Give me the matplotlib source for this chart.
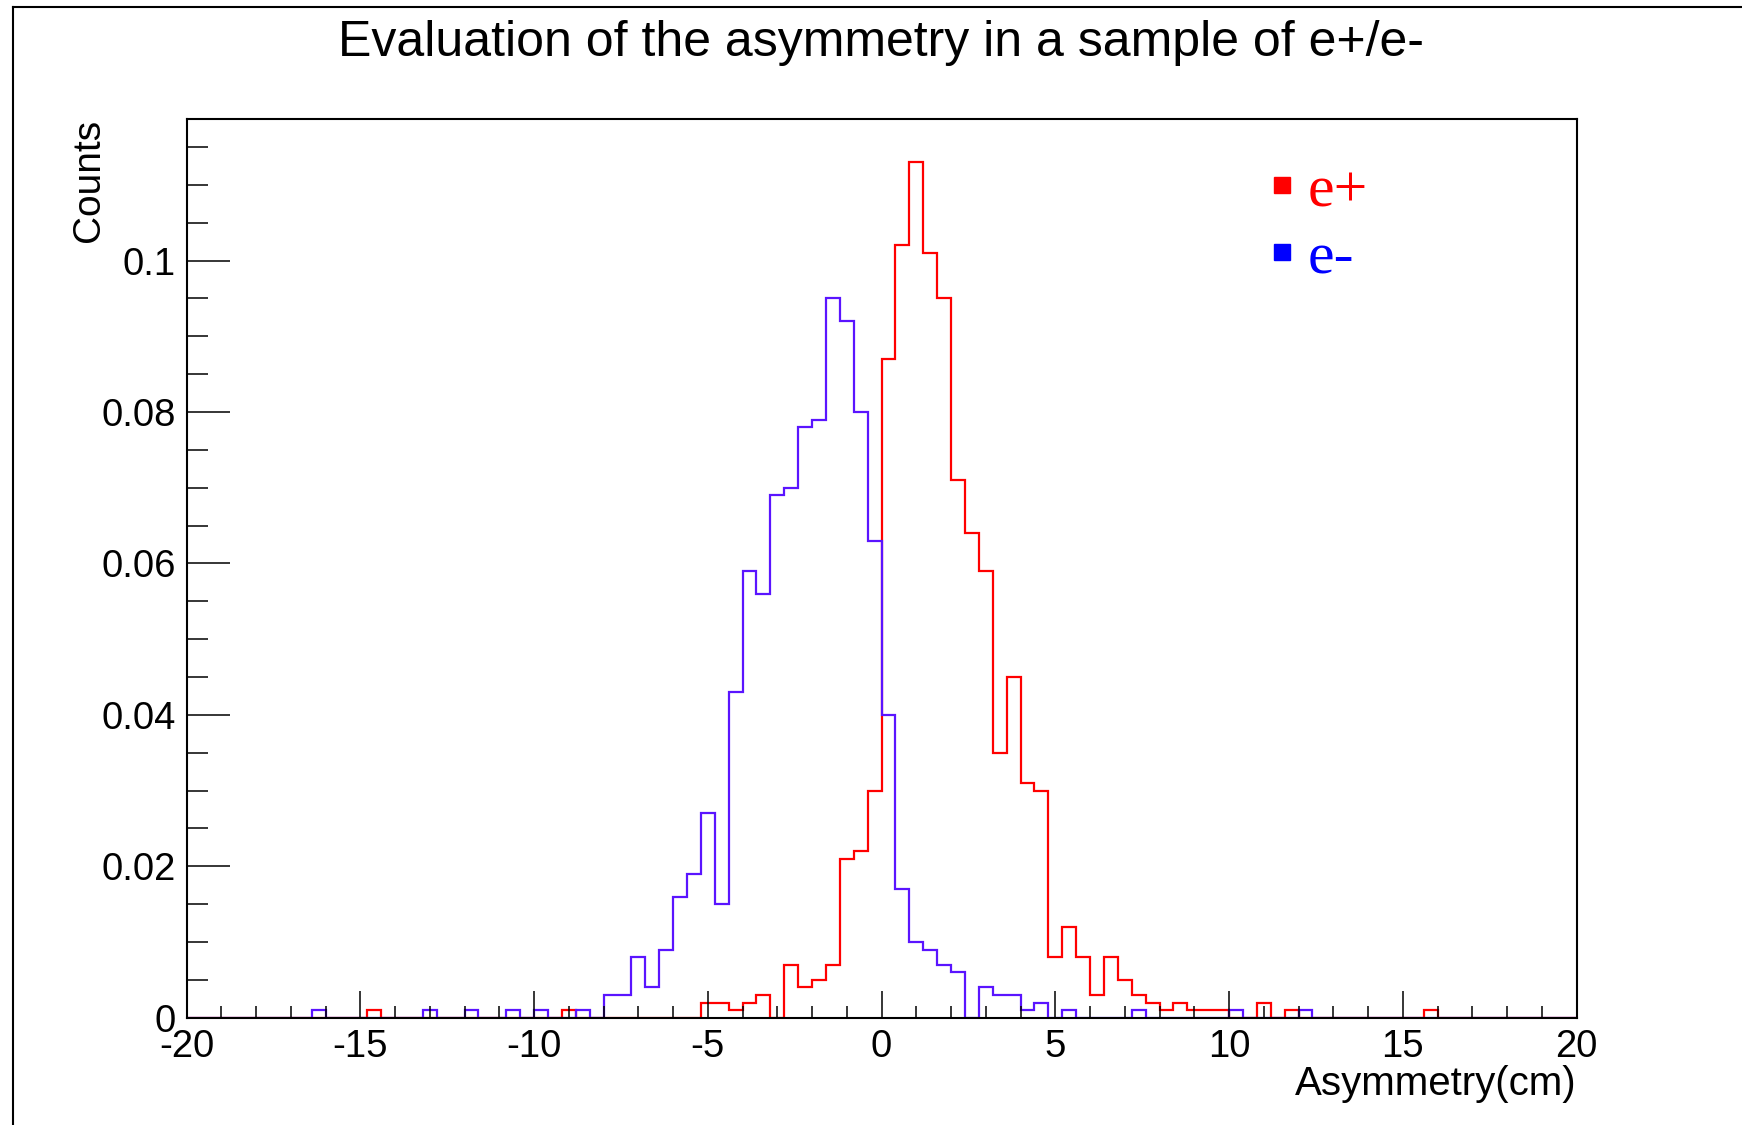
import numpy as np
import matplotlib
matplotlib.use('Agg')
import matplotlib.pyplot as plt
from matplotlib.lines import Line2D
from matplotlib.ticker import MultipleLocator, FuncFormatter

# histogram binning: 100 bins of 0.4 cm between -20 and 20
nbins = 100
xmin, xmax = -20.0, 20.0

# non-empty bins: {bin index: normalised counts}
eplus_bins = {13: 0.001, 27: 0.001, 37: 0.002, 38: 0.002, 39: 0.001, 40: 0.002,
              41: 0.003, 42: 0.0, 43: 0.007, 44: 0.004, 45: 0.005, 46: 0.007,
              47: 0.021, 48: 0.022, 49: 0.030, 50: 0.087, 51: 0.102, 52: 0.113,
              53: 0.101, 54: 0.095, 55: 0.071, 56: 0.064, 57: 0.059, 58: 0.035,
              59: 0.045, 60: 0.031, 61: 0.030, 62: 0.008, 63: 0.012, 64: 0.008,
              65: 0.003, 66: 0.008, 67: 0.005, 68: 0.003, 69: 0.002, 70: 0.001,
              71: 0.002, 72: 0.001, 73: 0.001, 74: 0.001, 77: 0.002, 79: 0.001,
              89: 0.001}
eminus_bins = {9: 0.001, 17: 0.001, 20: 0.001, 23: 0.001, 25: 0.001, 28: 0.001,
               30: 0.003, 31: 0.003, 32: 0.008, 33: 0.004, 34: 0.009, 35: 0.016,
               36: 0.019, 37: 0.027, 38: 0.015, 39: 0.043, 40: 0.059, 41: 0.056,
               42: 0.069, 43: 0.070, 44: 0.078, 45: 0.079, 46: 0.095, 47: 0.092,
               48: 0.080, 49: 0.063, 50: 0.040, 51: 0.017, 52: 0.010, 53: 0.009,
               54: 0.007, 55: 0.006, 57: 0.004, 58: 0.003, 59: 0.003, 60: 0.001,
               61: 0.002, 63: 0.001, 68: 0.001, 75: 0.001, 80: 0.001}

labels = ['e+', 'e-']
title = 'Evaluation of the asymmetry in a sample of e+/e-'

edges = np.linspace(xmin, xmax, nbins + 1)
h_plus = np.zeros(nbins)
h_minus = np.zeros(nbins)
for k, v in eplus_bins.items():
    h_plus[k] = v
for k, v in eminus_bins.items():
    h_minus[k] = v

sans = ['Liberation Sans', 'DejaVu Sans']
serif = ['Liberation Serif', 'DejaVu Serif']

fig = plt.figure(figsize=(17.42, 11.25), dpi=100)
ax = fig.add_axes([0.1071, 0.0954, 0.7979, 0.7989])

ax.stairs(h_plus, edges, color='#ff0000', lw=1.6)
ax.stairs(h_minus, edges, color='#5a14ff', lw=1.6)

ax.set_xlim(xmin, xmax)
ax.set_ylim(0, 0.1187)

ax.xaxis.set_major_locator(MultipleLocator(5))
ax.xaxis.set_minor_locator(MultipleLocator(1))
ax.yaxis.set_major_locator(MultipleLocator(0.02))
ax.yaxis.set_minor_locator(MultipleLocator(0.005))
ax.yaxis.set_major_formatter(FuncFormatter(lambda v, p: '%g' % round(v, 4)))
ax.xaxis.set_major_formatter(FuncFormatter(lambda v, p: '%g' % v))

ax.tick_params(axis='both', which='both', direction='in', width=1.1,
               top=False, right=False, labelsize=27.5, pad=8)
ax.tick_params(axis='x', which='major', length=19.5)
ax.tick_params(axis='x', which='minor', length=8.6)
ax.tick_params(axis='y', which='major', length=31)
ax.tick_params(axis='y', which='minor', length=15)
for lab in ax.get_xticklabels() + ax.get_yticklabels():
    lab.set_family(sans)
for s in ax.spines.values():
    s.set_linewidth(1.5)

ax.set_xlabel('Asymmetry(cm)', fontsize=29, family=sans, loc='right', labelpad=0)
ax.set_ylabel('Counts', fontsize=28, family=sans, loc='top')
ax.yaxis.set_label_coords(-0.057, 1.0)

fig.text(0.506, 0.962, title, fontsize=36, family=sans, ha='center', va='center')

# legend: coloured squares + coloured serif text
handles = [Line2D([], [], ls='none', marker='s', ms=11, color='#ff0000'),
           Line2D([], [], ls='none', marker='s', ms=11, color='#0000ff')]
leg = ax.legend(handles, labels, loc='upper left', bbox_to_anchor=(0.739, 1.009),
                frameon=False, prop={'family': serif, 'size': 43},
                handlelength=0.5, handletextpad=0.18, labelspacing=0.2,
                labelcolor=['#ff0000', '#0000ff'])

# canvas border (left and top edges visible in the reference)
fig.add_artist(Line2D([0.0073, 0.0073], [0, 0.994], color='black', lw=1.5,
                      transform=fig.transFigure))
fig.add_artist(Line2D([0.0073, 1.0], [0.994, 0.994], color='black', lw=1.5,
                      transform=fig.transFigure))

fig.savefig('out.png', dpi=100)
